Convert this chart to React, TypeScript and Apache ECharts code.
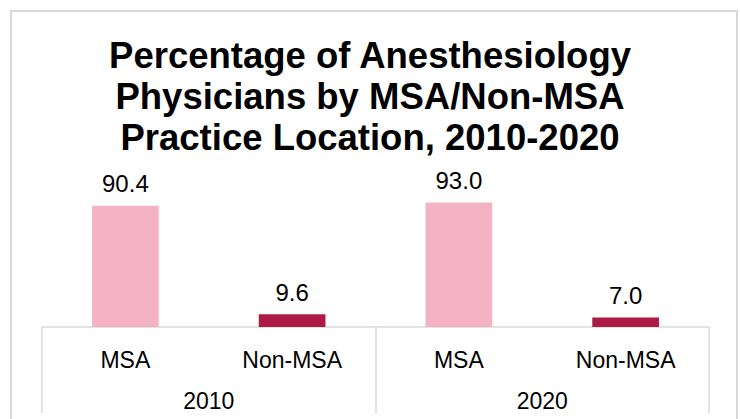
import React, { useEffect, useRef } from "react";
import * as echarts from "echarts";

const years = ["2010", "2020"];
const locations = ["MSA", "Non-MSA"];
const msaValues = [90.4, 93.0];
const nonMsaValues = [9.6, 7.0];
const locationColors = ["#F4B3C5", "#AD1A45"];
const titleText = "Percentage of Anesthesiology\nPhysicians by MSA/Non-MSA\nPractice Location, 2010-2020";

export default function App() {
  const ref = useRef<HTMLDivElement>(null);
  useEffect(() => {
    if (!ref.current) return;
    const chart = echarts.init(ref.current, undefined, { renderer: "svg" });
    const cats: string[] = [];
    const data: any[] = [];
    years.forEach((y, i) => {
      const vals = [msaValues[i], nonMsaValues[i]];
      locations.forEach((loc, j) => {
        cats.push(loc);
        data.push({ value: vals[j], itemStyle: { color: locationColors[j] } });
      });
    });
    const font = "Liberation Sans, Arial, sans-serif";
    chart.setOption({
      animation: false,
      textStyle: { fontFamily: font },
      title: {
        text: titleText,
        left: "center",
        top: 30,
        padding: [5, 5, 5, 13],
        textStyle: {
          fontFamily: font,
          fontSize: 36.5,
          fontWeight: "bold",
          lineHeight: 41,
          color: "#000",
        },
      },
      graphic: [
        {
          type: "rect",
          shape: { x: 11, y: 11, width: 726, height: 420 },
          style: { fill: "none", stroke: "#D9D9D9", lineWidth: 2 },
          silent: true,
        },
      ],
      grid: { left: 42, right: 31, top: 193, bottom: 92, containLabel: false },
      xAxis: [
        {
          type: "category",
          data: cats,
          position: "bottom",
          axisLine: { show: true, lineStyle: { color: "#D9D9D9", width: 1.5 } },
          axisTick: { show: false },
          axisLabel: { color: "#000", fontSize: 23, margin: 21, interval: 0, fontFamily: font },
        },
        {
          type: "category",
          data: years,
          position: "bottom",
          axisLine: { show: false },
          axisTick: { show: true, length: 86, lineStyle: { color: "#D9D9D9", width: 1.5 } },
          axisLabel: { color: "#000", fontSize: 23, margin: 62, interval: 0, fontFamily: font },
        },
      ],
      yAxis: { type: "value", min: 0, max: 100, show: false },
      series: [
        {
          type: "bar",
          xAxisIndex: 0,
          data,
          barWidth: "40%",
          label: {
            show: true,
            position: "top",
            distance: 10,
            color: "#000",
            fontSize: 24,
            fontFamily: font,
            formatter: (p: any) => Number(p.value).toFixed(1),
          },
        },
      ],
    });
    return () => chart.dispose();
  }, []);
  return <div ref={ref} style={{ position: "absolute", left: 0, top: 0, width: 740, height: 419 }} />;
}
